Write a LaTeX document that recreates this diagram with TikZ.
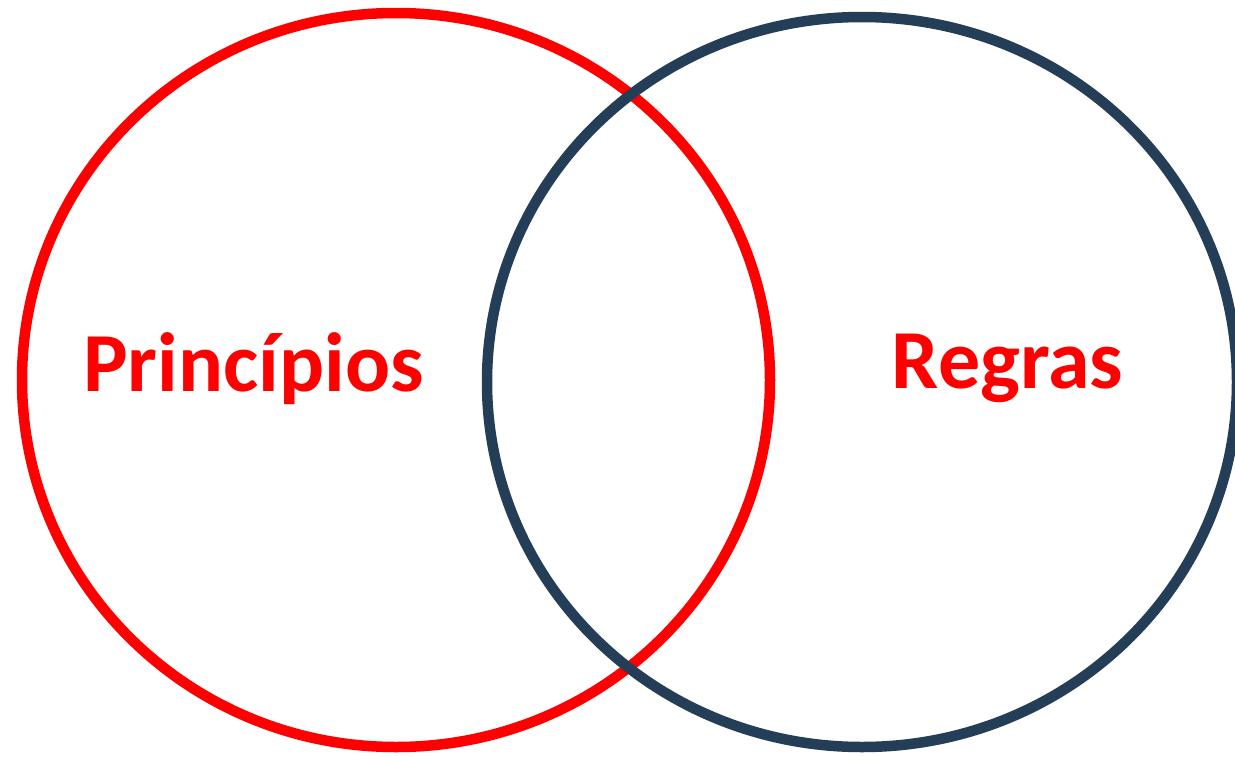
\documentclass[tikz,border=0pt]{standalone}
\usepackage{fontspec}
\setmainfont{Carlito}
\definecolor{setblue}{HTML}{243E58}
\begin{document}
\begin{tikzpicture}[x=1pt,y=-1pt]
	\tikzset{label/.style={anchor=base,text=red,font=\fontsize{84}{90}\selectfont\bfseries,inner sep=0pt}}
	\useasboundingbox (0,0) rectangle (1235,756);
	
	\draw[red,line width=10.5pt] (396,380) ellipse [x radius=374,y radius=367];
	\draw[setblue,line width=10.5pt] (862,382) ellipse [x radius=375,y radius=365];
	
	\node[label] (principios) at (253.5,391) {Princípios};
	\node[label] (regras) at (1007.5,388) {Regras};
	\end{tikzpicture}
\end{document}
